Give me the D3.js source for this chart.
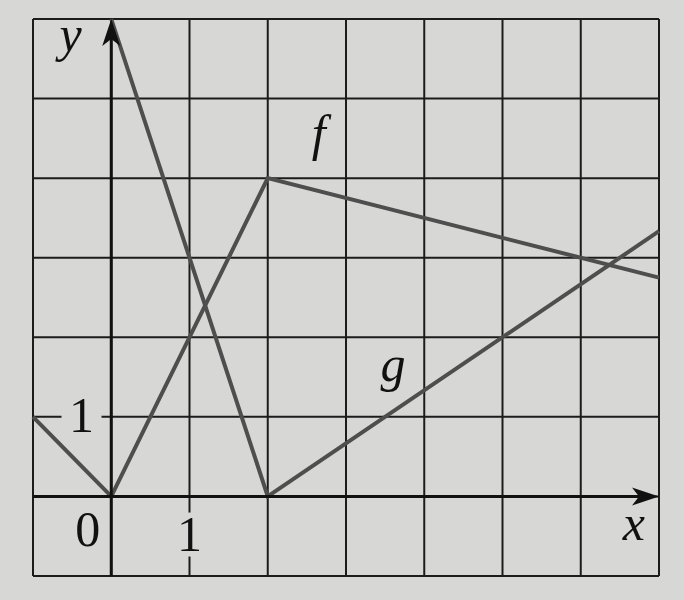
<!DOCTYPE html>
<html><head><meta charset="utf-8">
<script src="https://cdn.jsdelivr.net/npm/d3@7"></script>
<style>html,body{margin:0;padding:0;background:#d7d7d5;}svg{display:block;}</style>
</head><body>
<script>
// Data
const xTicks = [-1,0,1,2,3,4,5,6,7];
const yTicks = [-1,0,1,2,3,4,5,6];
const fX = [-1, 0, 2, 7];
const fY = [1, 0, 4, 2.75];
const gX = [0, 2, 7];
const gY = [6, 0, 10/3];
const labels = [
  {t:"y", x:-0.52, y:5.6, it:true},
  {t:"x", x:6.68, y:-0.55, it:true},
  {t:"f", x:2.65, y:4.35, it:true},
  {t:"g", x:3.6, y:1.45, it:true},
  {t:"0", x:-0.3, y:-0.62, it:false},
  {t:"1", x:1, y:-0.68, it:false, box:true},
  {t:"1", x:-0.38, y:0.81, it:false, box:true}
];

const W=684,H=600;
const FONT="'Liberation Serif','Times New Roman',Times,Tinos,'Noto Serif','DejaVu Serif',serif";
const svg=d3.select("body").append("svg").attr("width",W).attr("height",H);
svg.append("rect").attr("width",W).attr("height",H).attr("fill","#d7d7d5");
const x=d3.scaleLinear().domain([-1,7]).range([33,659]);
const y=d3.scaleLinear().domain([-1,6]).range([576,19]);

// grid
const g=svg.append("g");
g.selectAll("line.v").data(xTicks).join("line")
 .attr("x1",d=>x(d)).attr("x2",d=>x(d)).attr("y1",y(6)).attr("y2",y(-1))
 .attr("stroke","#1c1c1c").attr("stroke-width",2);
g.selectAll("line.h").data(yTicks).join("line")
 .attr("y1",d=>y(d)).attr("y2",d=>y(d)).attr("x1",x(-1)).attr("x2",x(7))
 .attr("stroke","#1c1c1c").attr("stroke-width",2);

// label boxes (break grid lines)
const lg=svg.append("g");
labels.filter(d=>d.box).forEach(d=>{
  lg.append("rect").attr("x",x(d.x)-20).attr("y",y(d.y)-38).attr("width",40).attr("height",44)
    .attr("fill","#d7d7d5");
});

// functions
const line=d3.line().x(d=>x(d[0])).y(d=>y(d[1]));
svg.append("path").datum(fX.map((v,i)=>[v,fY[i]])).attr("d",line)
 .attr("fill","none").attr("stroke","#4e4e4e").attr("stroke-width",4).attr("stroke-linejoin","miter");
svg.append("path").datum(gX.map((v,i)=>[v,gY[i]])).attr("d",line)
 .attr("fill","none").attr("stroke","#4e4e4e").attr("stroke-width",4).attr("stroke-linejoin","miter");

// axes
svg.append("line").attr("x1",x(0)).attr("x2",x(0)).attr("y1",y(-1)).attr("y2",y(6)+10)
 .attr("stroke","#111").attr("stroke-width",3);
svg.append("line").attr("x1",x(-1)).attr("x2",x(7)-10).attr("y1",y(0)).attr("y2",y(0))
 .attr("stroke","#111").attr("stroke-width",3);
svg.append("path").attr("d",`M${x(0)},${y(6)} L${x(0)-9},${y(6)+27} L${x(0)},${y(6)+20} L${x(0)+9},${y(6)+27} Z`).attr("fill","#111");
svg.append("path").attr("d",`M${x(7)},${y(0)} L${x(7)-27},${y(0)-9} L${x(7)-20},${y(0)} L${x(7)-27},${y(0)+9} Z`).attr("fill","#111");

// labels
svg.selectAll("text.lab").data(labels).join("text")
 .attr("x",d=>x(d.x)).attr("y",d=>y(d.y)).attr("text-anchor","middle")
 .style("font-family",FONT)
 .attr("font-size",d=>d.it?50:50).attr("font-style",d=>d.it?"italic":"normal")
 .attr("fill","#111").text(d=>d.t);
</script>
</body></html>
